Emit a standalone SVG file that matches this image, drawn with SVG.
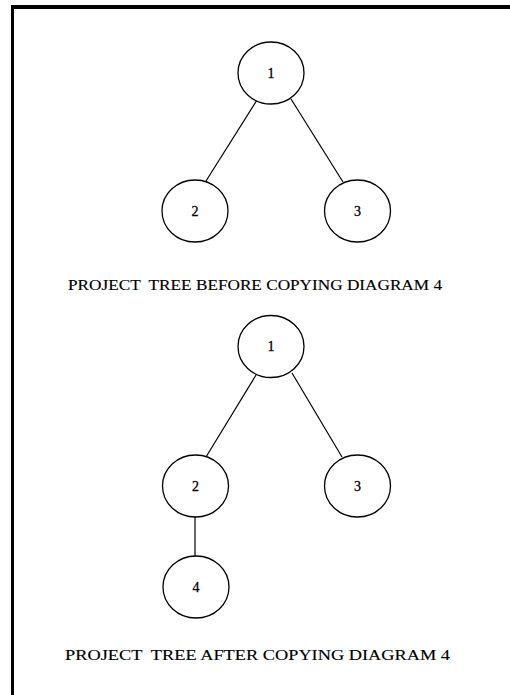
<svg xmlns="http://www.w3.org/2000/svg" width="510" height="695" viewBox="0 0 510 695">
<style>
.node{fill:#fff;stroke:#000;stroke-width:1.3}
.lbl{font-family:"Liberation Serif","Times New Roman",serif;font-size:14px;text-anchor:middle;fill:#000;stroke:#000;stroke-width:0.3}
.cap{font-family:"Liberation Serif","Times New Roman",serif;font-size:15px;fill:#000;stroke:#000;stroke-width:0.15}
.edge{stroke:#000;stroke-width:1.2;fill:none}
</style>
<rect width="510" height="695" fill="#fff"/>
<g id="frame" fill="#000">
<rect x="11" y="5" width="499" height="4"/>
<rect x="11" y="5" width="3" height="690"/>
</g>
<g id="connectors">
<line class="edge" x1="257" y1="100" x2="206" y2="181"/>
<line class="edge" x1="291" y1="99" x2="343" y2="182"/>
<line class="edge" x1="256" y1="375" x2="206" y2="457"/>
<line class="edge" x1="292" y1="373" x2="342" y2="457"/>
<line class="edge" x1="195" y1="517" x2="195" y2="556"/>
</g>
<g id="a1"><ellipse class="node" cx="271" cy="73" rx="33" ry="31"/><text class="lbl" x="271" y="78">1</text></g>
<g id="a2"><ellipse class="node" cx="195" cy="211" rx="33" ry="31"/><text class="lbl" x="195" y="216">2</text></g>
<g id="a3"><ellipse class="node" cx="357.5" cy="211" rx="33" ry="31"/><text class="lbl" x="357.5" y="216">3</text></g>
<g id="cap1"><text class="cap" x="68" y="290" textLength="374" lengthAdjust="spacingAndGlyphs" xml:space="preserve">PROJECT  TREE BEFORE COPYING DIAGRAM 4</text></g>
<g id="b1"><ellipse class="node" cx="271" cy="346.5" rx="33" ry="31"/><text class="lbl" x="271" y="351">1</text></g>
<g id="b2"><ellipse class="node" cx="195.5" cy="486" rx="33" ry="31"/><text class="lbl" x="195.5" y="491">2</text></g>
<g id="b3"><ellipse class="node" cx="357.5" cy="486" rx="33" ry="31"/><text class="lbl" x="357.5" y="491">3</text></g>
<g id="b4"><ellipse class="node" cx="196" cy="587" rx="33" ry="31"/><text class="lbl" x="196" y="592">4</text></g>
<g id="cap2"><text class="cap" x="65" y="660" textLength="385" lengthAdjust="spacingAndGlyphs" xml:space="preserve">PROJECT  TREE AFTER COPYING DIAGRAM 4</text></g>
</svg>
